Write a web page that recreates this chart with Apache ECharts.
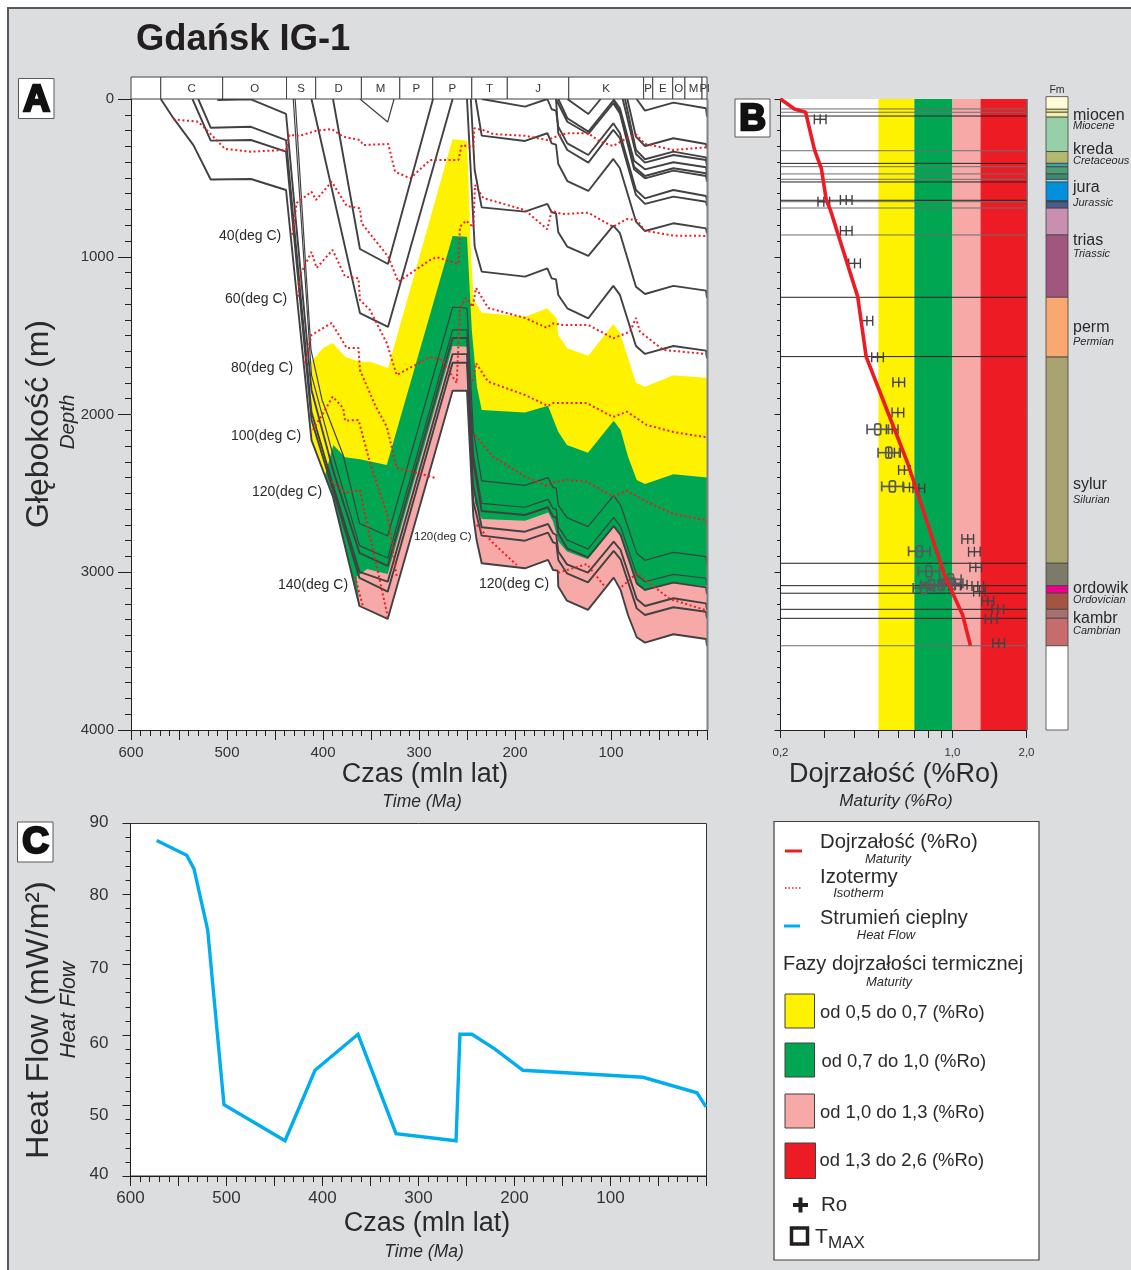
<!DOCTYPE html>
<html><head><meta charset="utf-8">
<style>html,body{margin:0;padding:0;background:#fff}#c{width:1131px;height:1270px}</style>
<script src="https://cdn.jsdelivr.net/npm/echarts@6/dist/echarts.min.js"></script>
</head><body><div id="c"></div>
<script>
// ---------- DATA: Panel A (age Ma, depth m) ----------
const stratBounds=[600,569,504.5,438,407.6,360,320,285.7,245,208,144,66,56.5,35.7,23,5.2,0];
const stratLabels=['','C','O','S','D','M','P','P','T','J','K','P','E','O','M','Pl'];
const yellowTop=[[412,1665],[400,1578],[390,1547],[377,1634],[361.5,1665],[351,1665],[332.3,1705],[265,254],[250,264],[246,957],[243,1274],[234.7,1355],[189.6,1380],[166.4,1327],[156.6,1390],[155,1496],[145.5,1580],[123.6,1627],[97.6,1426],[90.6,1483],[74,1798],[64.6,1824],[35,1751],[1,1767],[0,1770]];
const greenTop=[[398,2388],[389.3,2193],[377,2271],[361.5,2284],[333.6,2320],[265,868],[250,873],[245,1464],[239.6,1826],[234.7,1972],[189.6,1988],[165.6,1944],[155,2109],[145.9,2193],[124,2242],[97.2,2039],[90,2098],[82.3,2267],[73.2,2415],[64.6,2440],[35,2379],[0,2400]];
const pinkTop=[[365,3028],[354,2979],[342.8,2997],[332.6,3011],[265,1566],[250,1570],[241.7,2561],[234.7,2662],[189.6,2673],[165.3,2622],[160.4,2679],[154.5,2806],[145.9,2869],[124,2918],[97.2,2715],[90,2774],[73.2,3081],[64.6,3117],[35,3066],[0,3091]];
const hA=[[73.3,0],[64.6,74],[35,23],[1,59],[0,112]];
const hB=[[83,0],[74,239],[64.6,298],[35,249],[1,285],[0,313]];
const hC=[[85.4,0],[74,323],[64.6,382],[35,334],[1,370],[0,408]];
const hD=[[87.8,0],[74,349],[64.6,403],[35,355],[1,387],[0,429]];
const hE0=[[145.5,0],[123.6,95],[110.8,0]];
const hE=[[97.6,0],[90.7,59],[76,391],[64.6,446],[35,401],[1,433],[0,471]];
const hF=[[154.9,0],[145.5,122],[123.6,207],[97.6,10],[90.7,80],[76,429],[64.6,488],[35,439],[1,471],[0,503]];
const hG=[[157.3,0],[145.5,144],[123.6,222],[97.6,27],[90.7,91],[76,446],[64.6,503],[35,454],[1,488],[0,524]];
const hH=[[234.7,0],[189.6,48],[166.3,0],[161.8,65],[157.3,74],[154.9,175],[145.5,281],[123.6,355],[97.6,154],[90.7,217],[74,577],[64.6,630],[35,577],[1,615],[0,644]];
const hI=[[157.3,0],[154.9,217],[145.5,323],[123.6,403],[97.6,196],[90.7,249],[74,608],[64.6,665],[35,619],[1,651],[0,679]];
const hJ=[[241,0],[234.7,232],[189.6,266],[166.3,217],[161.8,281],[157.3,289],[154.9,412],[145.5,520],[123.6,583],[97.6,380],[90.7,439],[74,777],[64.6,837],[35,788],[1,820],[0,852]];
const hK=[[246,0],[242,450],[234.7,687],[189.6,714],[166.3,665],[161.8,718],[157.3,725],[154.9,845],[145.5,936],[123.6,995],[97.6,803],[90.7,851],[74,1190],[64.6,1236],[35,1185],[1,1215],[0,1263]];
const hL=[[250,0],[242,936],[234.7,1094],[189.6,1126],[166.3,1073],[161.8,1137],[157.3,1143],[154.9,1242],[145.5,1327],[123.6,1390],[97.6,1185],[90.7,1242],[74,1566],[64.6,1616],[35,1566],[1,1595],[0,1644]];
const hM=[[429,0],[412.5,1591],[401,1908],[379,2257],[362,2690],[332.6,2770],[265,1320],[250,1325],[243.5,2100],[234.7,2421],[189.6,2449],[165.6,2400],[160.4,2462],[157,2468],[154.9,2574],[145.9,2654],[124,2711],[97.2,2514],[90,2574],[73.2,2880],[64.6,2924],[35,2874],[1,2901],[0,2954]];
const hN=[[431,0],[412,1750],[389.6,2257],[362,2831],[332.6,2910],[265,1464],[250,1464],[243.5,2250],[234.7,2563],[189.6,2588],[165.6,2538],[160.4,2595],[157,2601],[154.9,2711],[145.9,2795],[124,2853],[97.2,2654],[90,2711],[73.2,3017],[64.6,3060],[35,3013],[1,3038],[0,3081]];
const hO=[[510,6],[475,2],[438.5,95],[412,1845],[389.6,2352],[362,2878],[332.6,2960],[265,1515],[250,1515],[243.5,2300],[234.7,2612],[189.6,2637],[165.6,2588],[160.4,2648],[157,2652],[154.9,2753],[145.9,2848],[124,2905],[97.2,2707],[90,2764],[73.2,3070],[64.6,3112],[35,3066],[1,3096],[0,3138]];
const hP=[[530,0],[517,182],[475,176],[438.5,260],[412,1984],[389.6,2447],[362,2997],[332.6,3060],[265,1617],[250,1617],[243.5,2450],[234.7,2715],[189.6,2743],[165.6,2694],[160.4,2753],[157,2764],[154.9,2869],[145.9,2950],[124,3003],[97.2,2806],[90,2859],[73.2,3170],[64.6,3214],[35,3165],[1,3197],[0,3239]];
const hQ=[[536,0],[517,264],[475,260],[438.5,334],[412,2035],[389.6,2479],[362,3036],[332.6,3123],[265,1672],[250,1672],[243.5,2550],[234.7,2768],[189.6,2800],[165.6,2749],[160.4,2810],[157,2817],[154.9,2922],[145.9,3007],[124,3064],[97.2,2865],[90,2918],[73.2,3229],[64.6,3271],[35,3222],[1,3250],[0,3292]];
const hR=[[569,0],[556,120],[535,292],[517,510],[475,507],[438.5,577],[412,2162],[389.6,2523],[362,3214],[332.6,3296],[265,1849],[250,1849],[243.4,2648],[240,2796],[234.7,2943],[189.6,2975],[165.6,2922],[160.4,2986],[155.5,2990],[154.9,3091],[145.9,3180],[124,3239],[97.2,3034],[90,3112],[82.3,3271],[73.2,3412],[64.6,3446],[35,3393],[1,3423],[0,3467]];
const hD1=[[412,0],[408,108],[361.5,1357],[332.3,1445],[265,0]];
const hD2=[[389.6,0],[361.5,951],[332.3,1046],[285.4,0]];
const hD3=[[361.5,0],[332.6,146],[326,0]];
const iso1=[[556,129],[530,144],[518,216],[502,317],[476,334],[438.5,323],[435,228],[424,233],[406.5,201],[391,190],[379,239],[361.5,260],[358,292],[332,285],[325,461],[309,503],[288.5,387],[259,387],[255.5,292],[243.4,306],[242.4,186],[233,197],[222.6,222],[189.6,233],[166.4,260],[155,233],[145.5,217],[123.6,217],[111.5,271],[97.6,298],[83.6,249],[73.2,228],[64.6,285],[35,323],[1,306]];
const iso2=[[432,862],[427.4,659],[412,588],[407.3,640],[391,524],[375.3,678],[361.5,693],[359.7,788],[332,1000],[321.6,1158],[288.5,1021],[281.6,1002],[259,1046],[257.3,810],[251,771],[243.4,813],[241.7,545],[233,628],[189.6,704],[166.4,826],[161.8,708],[151.4,729],[123.6,721],[97.6,810],[83.6,761],[73.2,767],[64.6,835],[35,866],[1,868]];
const iso3=[[425.7,1253],[424,1116],[412,970],[406.6,1071],[390,957],[377,1126],[363,1137],[361.5,1274],[351,1338],[333.6,1547],[323.2,1750],[288.5,1635],[276.4,1654],[260.7,1800],[257.3,1325],[251,1261],[244,1318],[240.6,1198],[227.8,1325],[189.6,1388],[167,1450],[160,1422],[149.7,1433],[123.6,1433],[97.6,1517],[80.2,1475],[74,1388],[69.8,1475],[45.5,1591],[1,1616]];
const iso4a=[[418.8,1674],[412,1496],[391,1420],[375.3,1578],[363,1578],[361.5,1718],[345.8,1940],[333.6,2077],[323.2,2339],[293.8,2384],[283,2403]];
const iso4b=[[244,1788],[240.6,1674],[228,1792],[189.6,1876],[165.6,1946],[160.4,1927],[125.3,1927],[97.9,2016],[83.6,1982],[62.8,2066],[35,2111],[1,2144]];
const iso5a=[[410.4,2098],[396,1952],[390,1887],[379,1959],[377,2039],[363,2035],[351,2307],[332.3,2648],[323.2,3028]];
const iso5b=[[241.7,2130],[222.6,2268],[189.6,2394],[167,2451],[160,2430],[146,2415],[125.3,2426],[97.6,2521],[83.6,2483],[62.8,2553],[35,2631],[1,2669],[0,2707]];
const iso6a=[[391,2426],[375.3,2496],[361.5,2479],[352.8,2732],[342.4,3007],[332.6,3282]];
const iso6b=[[240,2700],[222.6,2816],[198.2,2954]];
const iso6c=[[155,3003],[125.3,2948],[106.3,3092]];
const iso6d=[[88.9,3092],[73.2,3007],[38.5,3170],[2,3239]];
const iso7=[[366.7,3028],[358.3,3218]];
// ---------- DATA: Panel B (%Ro, depth m) ----------
const bandEdges=[0.5,0.7,1.0,1.3,2.0];
const maturityCurve=[[0.2,0],[0.228,63],[0.253,84],[0.275,323],[0.293,439],[0.307,640],[0.319,703],[0.412,1253],[0.446,1634],[0.658,2309],[0.928,3017],[1.003,3133],[1.10,3271],[1.184,3466]];
const roPoints=[[0.290,129],[0.300,651],[0.370,640],[0.370,835],[0.400,1042],[0.449,1405],[0.496,1637],[0.605,1796],[0.600,1988],[0.569,2094],[0.581,2242],[0.638,2352],[0.669,2462],[0.730,2468],[1.154,2789],[1.228,2870],[1.244,2969],[1.086,3080],[1.02,3085],[1.268,3087],[1.288,3123],[1.392,3182],[1.529,3235],[1.437,3296],[1.542,3450]];
const tmaxPoints=[[0.497,2094],[0.551,2242],[0.570,2456],[0.733,2867],[0.802,2994],[0.982,3045],[0.90,3080],[0.998,3070],[0.765,3100],[0.820,3080]];
const horizonsDark=[108,408,526,642,1257,1633,2943,3085,3133,3235,3292];
const horizonsGray=[63,84,328,429,475,509,651,691,862,3466];
// ---------- DATA: stratigraphic column ----------
const colTops=[-15,65,84,115,333,408,430,475,510,527,645,652,692,862,1257,1636,2943,3085,3133,3235,3292,3466];
const colBottoms=[65,84,115,333,408,430,475,510,527,645,652,692,862,1257,1636,2943,3085,3133,3235,3292,3466,4000];
const colColors=['#fffbd5','#e8e595','#f4efa8','#97d0a8','#b2b86e','#3ea5a7','#4d9d75','#3f8872','#9ad6e6','#0090dc','#1c3566','#4a5c8a','#c98fb0','#a0577e','#f9a870','#a8a370','#7c7a68','#ec008c','#a35542','#a47070','#c76c6c','#ffffff'];
// ---------- DATA: Panel C ----------
const heatFlow=[[572.7,87.6],[541.5,85.5],[533.9,83.6],[519.6,74.9],[502.6,50.1],[439,45],[407.8,55],[363,60.1],[323.4,46],[260.9,45],[256.8,60.1],[244.3,60.1],[220.3,58],[191.2,55],[66.1,54],[9.9,51.8],[0.5,49.8]];
const roTicks=[0.2,0.3,0.4,0.5,0.6,0.7,0.8,0.9,1,2];
const roLabels=[0.2,1,2];

// ---------- styling ----------
const FONT='"Liberation Sans",Arial,sans-serif', INK='#231f20', LINE='#414042';
const YELLOW='#fff200',GREEN='#00a651',PINK='#f7a9a8',RED='#ed1c24',BLUE='#00aeef';
const bandColors=[YELLOW,GREEN,PINK,RED];
const T=(text,x,y,size,o={})=>{const off=size*0.05;const rot=o.rot||0;return {type:'text',x:x+(rot?off:0),y:y+(rot?0:off),rotation:rot,z:o.z||50,zlevel:0,silent:true,style:{text,fontFamily:FONT,fontSize:size,fontWeight:o.bold?'bold':'normal',fontStyle:o.it?'italic':'normal',fill:o.fill||'#2b2a2b',align:o.align||'left',verticalAlign:'middle',stroke:o.stroke,lineWidth:o.lw||0}};};
const R=(x,y,w,h,fill,o={})=>({type:'rect',silent:true,z:o.z||40,shape:{x,y,width:w,height:h},style:{fill,stroke:o.stroke||'#414042',lineWidth:o.lw===undefined?1:o.lw}});
const L=(x1,y1,x2,y2,color,w,o={})=>({type:'line',silent:true,z:o.z||41,shape:{x1,y1,x2,y2},style:{stroke:color,lineWidth:w,lineDash:o.dash}});

const polySeries=(top,color,stopMa)=>{
  const pts=top.concat(hR.filter(p=>p[0]<=stopMa&&p[0]>=0).slice().reverse());
  return {type:'custom',xAxisIndex:0,yAxisIndex:0,z:1,silent:true,clip:false,data:pts,
    renderItem:(p,api)=>p.dataIndex===0?{type:'polygon',shape:{points:pts.map(q=>api.coord(q))},style:{fill:color}}:null};
};
const horizon=(d,w)=>({type:'line',xAxisIndex:0,yAxisIndex:0,data:d,z:3,silent:true,showSymbol:false,symbol:'none',lineStyle:{color:LINE,width:w||1.9},animation:false});
const iso=d=>({type:'line',xAxisIndex:0,yAxisIndex:0,data:d,z:4,silent:true,showSymbol:false,symbol:'none',lineStyle:{color:'#ed1c24',width:2,type:[2,2.6]},animation:false});

const bg=[
 R(8,8,1200,1320,'#dcddde',{stroke:'#58595b',lw:2,z:-10}),
 T('Gdańsk IG-1',136,38.5,36.4,{bold:true,fill:'#231f20'}),
 R(18.5,78.5,35.5,40,'#fff',{stroke:'#58595b',lw:1}),T('A',36.5,98.5,37,{bold:true,align:'center',fill:'#111',stroke:'#111',lw:2.5}),
 R(735,99,35,38,'#fff',{stroke:'#58595b',lw:1}),T('B',752.5,117.5,37,{bold:true,align:'center',fill:'#111',stroke:'#111',lw:2.5}),
 R(17.5,822,35.5,40,'#fff',{stroke:'#58595b',lw:1}),T('C',35.5,841,37,{bold:true,align:'center',fill:'#111',stroke:'#111',lw:2.5}),
 T('Głębokość (m)',37.5,424,32,{rot:Math.PI/2,align:'center'}),
 T('Depth',67,422,20.5,{rot:Math.PI/2,align:'center',it:true}),
 T('Czas (mln lat)',425,773,27,{align:'center'}),
 T('Time (Ma)',422,801.5,17.5,{align:'center',it:true}),
 T('Dojrzałość (%Ro)',894,773,27,{align:'center'}),
 T('Maturity (%Ro)',896,800.5,17,{align:'center',it:true}),
 T('Czas (mln lat)',427,1222.5,27,{align:'center'}),
 T('Time (Ma)',424,1251.5,17.5,{align:'center',it:true}),
 T('Heat Flow (mW/m²)',37.5,1020,32,{rot:Math.PI/2,align:'center'}),
 T('Heat Flow',67.5,1010,21.5,{rot:Math.PI/2,align:'center',it:true}),
 T('40(deg C)',219,235.5,14),T('60(deg C)',225,298.5,14),T('80(deg C)',231,367.5,14),T('100(deg C)',231,435.5,14),T('120(deg C)',252,491.5,14),T('140(deg C)',278,584.5,14),T('120(deg C)',414,536.5,11.5),T('120(deg C)',479,583.5,14),
 L(1027,99,1027,730,'#231f20',1),
 L(707.5,99,707.5,730,'#808285',2),
 T('Fm',1057,90,10.5,{align:'center'}),
 T('miocen',1073,115,16),T('Miocene',1073,125,11,{it:true}),
 T('kreda',1073,149,16),T('Cretaceous',1073,160,11,{it:true}),
 T('jura',1073,187,16),T('Jurassic',1073,202,11,{it:true}),
 T('trias',1073,240,16),T('Triassic',1073,253,11,{it:true}),
 T('perm',1073,327,16),T('Permian',1073,341,11,{it:true}),
 T('sylur',1073,484,16),T('Silurian',1073,499,11,{it:true}),
 T('ordowik',1073,588,16),T('Ordovician',1073,599,11,{it:true}),
 T('kambr',1073,618,16),T('Cambrian',1073,630,11,{it:true}),
 // legend
 R(774,821.5,265,438.5,'#fff',{stroke:'#414042',lw:1.2}),
 L(785,851,802,851,RED,3),T('Dojrzałość (%Ro)',820,841,20.3),T('Maturity',888,858.5,13,{it:true,align:'center'}),
 L(785,888,802,888,RED,1.5,{dash:[1.5,2]}),T('Izotermy',820,876.5,20.3),T('Isotherm',858.5,892.5,13,{it:true,align:'center'}),
 L(784,926,800,926,BLUE,3),T('Strumień cieplny',820,917,20),T('Heat Flow',886,934.5,13,{it:true,align:'center'}),
 T('Fazy dojrzałości termicznej',783,963,20),T('Maturity',889,981.5,13,{it:true,align:'center'}),
 R(785,994,29.5,34,YELLOW),T('od 0,5 do 0,7 (%Ro)',820,1012.5,18.4),
 R(785,1043,29.5,34,GREEN),T('od 0,7 do 1,0 (%Ro)',821.5,1061.5,18.4),
 R(785,1094,29.5,34,PINK),T('od 1,0 do 1,3 (%Ro)',820,1112.5,18.4),
 R(785,1143,30.5,35.5,RED),T('od 1,3 do 2,6 (%Ro)',819.5,1160.5,18.4),
 L(793,1205,808,1205,'#231f20',4),L(800.5,1197.5,800.5,1212.5,'#231f20',4),T('Ro',821,1204.5,20.5),
 R(791.5,1228,16,16,'#fff',{stroke:'#231f20',lw:3.5}),T('T',815,1236.5,21),T('MAX',828,1242.5,17)
];

const ageAxis=(grid,size,margin)=>({type:'value',gridIndex:grid,inverse:true,min:0,max:600,interval:50,splitLine:{show:false},
  axisLine:{onZero:false,lineStyle:{color:INK,width:1}},axisTick:{length:10,lineStyle:{color:INK}},
  minorTick:{show:true,splitNumber:5,length:6,lineStyle:{color:INK}},
  axisLabel:{fontFamily:FONT,color:'#333',fontSize:size,margin,showMinLabel:false,formatter:v=>(v%100===0&&v>0)?String(v):''}});

const shift={90:[0,0,2,0],80:[2,0,0,0],70:[7,0,0,0],60:[16,0,0,0],50:[20,0,0,0],40:[0,0,4,0]};
const rich={};Object.keys(shift).forEach(k=>rich['s'+k]={padding:shift[k],fontSize:17,fontFamily:FONT,color:'#333'});

const option={
 animation:false,backgroundColor:'#fff',
 graphic:{elements:bg},
 grid:[
  {left:131,top:99,width:576,height:631,show:true,backgroundColor:'#fff',borderWidth:0},   // A
  {left:131,top:77,width:576,height:22,show:false},                                         // strat strip
  {left:780.5,top:99,width:246,height:631,show:true,backgroundColor:'#fff',borderWidth:0}, // B
  {left:1046,top:99,width:22,height:631,show:false},                                        // column
  {left:130.5,top:823.5,width:576,height:352.5,show:true,backgroundColor:'#fff',borderColor:'#333',borderWidth:1} // C
 ],
 xAxis:[
  ageAxis(0,15,15),
  {type:'value',gridIndex:1,inverse:true,min:0,max:600,show:false},
  {type:'log',gridIndex:2,logBase:10,min:0.2,max:2,splitLine:{show:false},minorTick:{show:false},
   axisLine:{onZero:false,lineStyle:{color:INK,width:1}},
   axisTick:{length:8,customValues:roTicks,lineStyle:{color:INK}},
   axisLabel:{fontFamily:FONT,color:'#333',fontSize:11.5,margin:17,customValues:roLabels,showMinLabel:true,showMaxLabel:true,formatter:v=>Number(v).toFixed(1).replace('.',',')}},
  {type:'value',gridIndex:3,min:0,max:1,show:false},
  ageAxis(4,17,14)
 ],
 yAxis:[
  {type:'value',gridIndex:0,inverse:true,min:0,max:4000,interval:1000,splitLine:{show:false},position:'left',
   axisLine:{onZero:false,lineStyle:{color:INK,width:1}},axisTick:{length:13,lineStyle:{color:INK}},
   minorTick:{show:true,splitNumber:10,length:6,lineStyle:{color:INK}},
   axisLabel:{fontFamily:FONT,color:'#333',fontSize:15,margin:17,formatter:v=>String(v)}},
  {type:'value',gridIndex:1,min:0,max:1,show:false},
  {type:'value',gridIndex:2,inverse:true,min:0,max:4000,interval:1000,splitLine:{show:false},position:'left',
   axisLine:{onZero:false,lineStyle:{color:INK,width:1}},axisTick:{length:6,lineStyle:{color:INK}},
   minorTick:{show:true,splitNumber:10,length:3.5,lineStyle:{color:INK}},axisLabel:{show:false}},
  {type:'value',gridIndex:3,inverse:true,min:0,max:4000,show:false},
  {type:'value',gridIndex:4,min:40,max:90,interval:10,splitLine:{show:false},position:'left',
   axisLine:{onZero:false,lineStyle:{color:INK,width:1}},axisTick:{length:8,lineStyle:{color:INK}},
   minorTick:{show:true,splitNumber:5,length:5,lineStyle:{color:INK}},
   axisLabel:{margin:22,formatter:v=>`{s${v}|${v}}`,rich}}
 ],
 series:[
  polySeries(yellowTop,YELLOW,412),
  polySeries(greenTop,GREEN,389.6),
  polySeries(pinkTop,PINK,362),
  ...[hA,hB,hC,hD,hE0,hE,hF,hG,hH,hI,hJ,hK,hL,hO,hP,hQ,hR,hD1,hD2].map(d=>horizon(d,1.9)),
  ...[hM,hN,hD3].map(d=>horizon(d,1.2)),
  ...[iso1,iso2,iso3,iso4a,iso4b,iso5a,iso5b,iso6a,iso6b,iso6c,iso6d,iso7].map(iso),
  // strat strip
  {type:'custom',xAxisIndex:1,yAxisIndex:1,silent:true,z:5,clip:false,
   data:stratLabels.map((s,i)=>[stratBounds[i],stratBounds[i+1],s]),
   encode:{x:[0,1]},
   renderItem:(p,api)=>{const a=api.coord([api.value(0),1]),b=api.coord([api.value(1),0]);
     return {type:'group',children:[
       {type:'rect',shape:{x:a[0],y:a[1],width:b[0]-a[0],height:b[1]-a[1]},style:{fill:'#fff',stroke:'#414042',lineWidth:1}},
       {type:'text',style:{x:(a[0]+b[0])/2,y:(a[1]+b[1])/2+1,text:stratLabels[p.dataIndex],align:'center',verticalAlign:'middle',fontFamily:FONT,fontSize:11.5,fill:'#333'}}]};}},
  // B: maturity bands
  {type:'custom',xAxisIndex:2,yAxisIndex:2,silent:true,z:1,
   data:bandColors.map((c,i)=>[bandEdges[i],bandEdges[i+1]]),encode:{x:[0,1]},
   renderItem:(p,api)=>{const a=api.coord([api.value(0),0]),b=api.coord([api.value(1),4000]);
     return {type:'rect',shape:{x:a[0],y:a[1],width:b[0]-a[0],height:b[1]-a[1]},style:{fill:bandColors[p.dataIndex]}};}},
  // B: horizon lines
  ...[[horizonsGray,'#6d6e71'],[horizonsDark,'#231f20']].map(([arr,col])=>({type:'custom',xAxisIndex:2,yAxisIndex:2,silent:true,z:2,
   data:arr.map(d=>[0.2,d]),
   renderItem:(p,api)=>{const a=api.coord([0.2,api.value(1)]),b=api.coord([2,api.value(1)]);
     return {type:'line',shape:{x1:a[0],y1:a[1],x2:b[0],y2:b[1]},style:{stroke:col,lineWidth:1}};}})),
  // B: Ro marks
  {type:'custom',xAxisIndex:2,yAxisIndex:2,silent:true,z:4,data:roPoints,
   renderItem:(p,api)=>{const v=api.value(0),d=api.value(1),c=api.coord([v,d]),l=api.coord([v/1.056,d]),r=api.coord([v*1.056,d]);
     const st={stroke:'#414042',lineWidth:1.4};const V=x=>({type:'line',shape:{x1:x,y1:c[1]-5,x2:x,y2:c[1]+5},style:st});
     return {type:'group',children:[{type:'line',shape:{x1:l[0],y1:c[1],x2:r[0],y2:c[1]},style:st},V(l[0]),V(c[0]),V(r[0])]};}},
  // B: Tmax marks
  {type:'custom',xAxisIndex:2,yAxisIndex:2,silent:true,z:4,data:tmaxPoints,
   renderItem:(p,api)=>{const v=api.value(0),d=api.value(1),c=api.coord([v,d]),l=api.coord([v/1.105,d]),r=api.coord([v*1.105,d]);
     const st={stroke:'#58595b',lineWidth:1.7};const V=x=>({type:'line',shape:{x1:x,y1:c[1]-5,x2:x,y2:c[1]+5},style:st});
     return {type:'group',children:[{type:'line',shape:{x1:l[0],y1:c[1],x2:r[0],y2:c[1]},style:st},V(l[0]),V(r[0]),
       {type:'rect',shape:{x:c[0]-3,y:c[1]-5.5,width:6,height:11,r:2},style:{fill:'none',stroke:'#58595b',lineWidth:1.7}}]};}},
  // B: maturity curve
  {type:'line',xAxisIndex:2,yAxisIndex:2,data:maturityCurve,z:5,silent:true,showSymbol:false,symbol:'none',clip:false,lineStyle:{color:RED,width:3.6},animation:false},
  // column
  {type:'custom',xAxisIndex:3,yAxisIndex:3,silent:true,z:3,clip:false,
   data:colTops.map((t,i)=>[0,t,1,colBottoms[i]]),
   renderItem:(p,api)=>{const a=api.coord([0,api.value(1)]),b=api.coord([1,api.value(3)]);
     return {type:'rect',shape:{x:a[0],y:a[1],width:b[0]-a[0],height:b[1]-a[1]},style:{fill:colColors[p.dataIndex],stroke:'#414042',lineWidth:0.8}};}},
  // C: heat flow
  {type:'line',xAxisIndex:4,yAxisIndex:4,data:heatFlow,z:3,silent:true,showSymbol:false,symbol:'none',lineStyle:{color:BLUE,width:3.4,join:'miter'},animation:false}
 ]
};
const chart=echarts.init(document.getElementById('c'),null,{width:1131,height:1270});
chart.setOption(option);
</script></body></html>
